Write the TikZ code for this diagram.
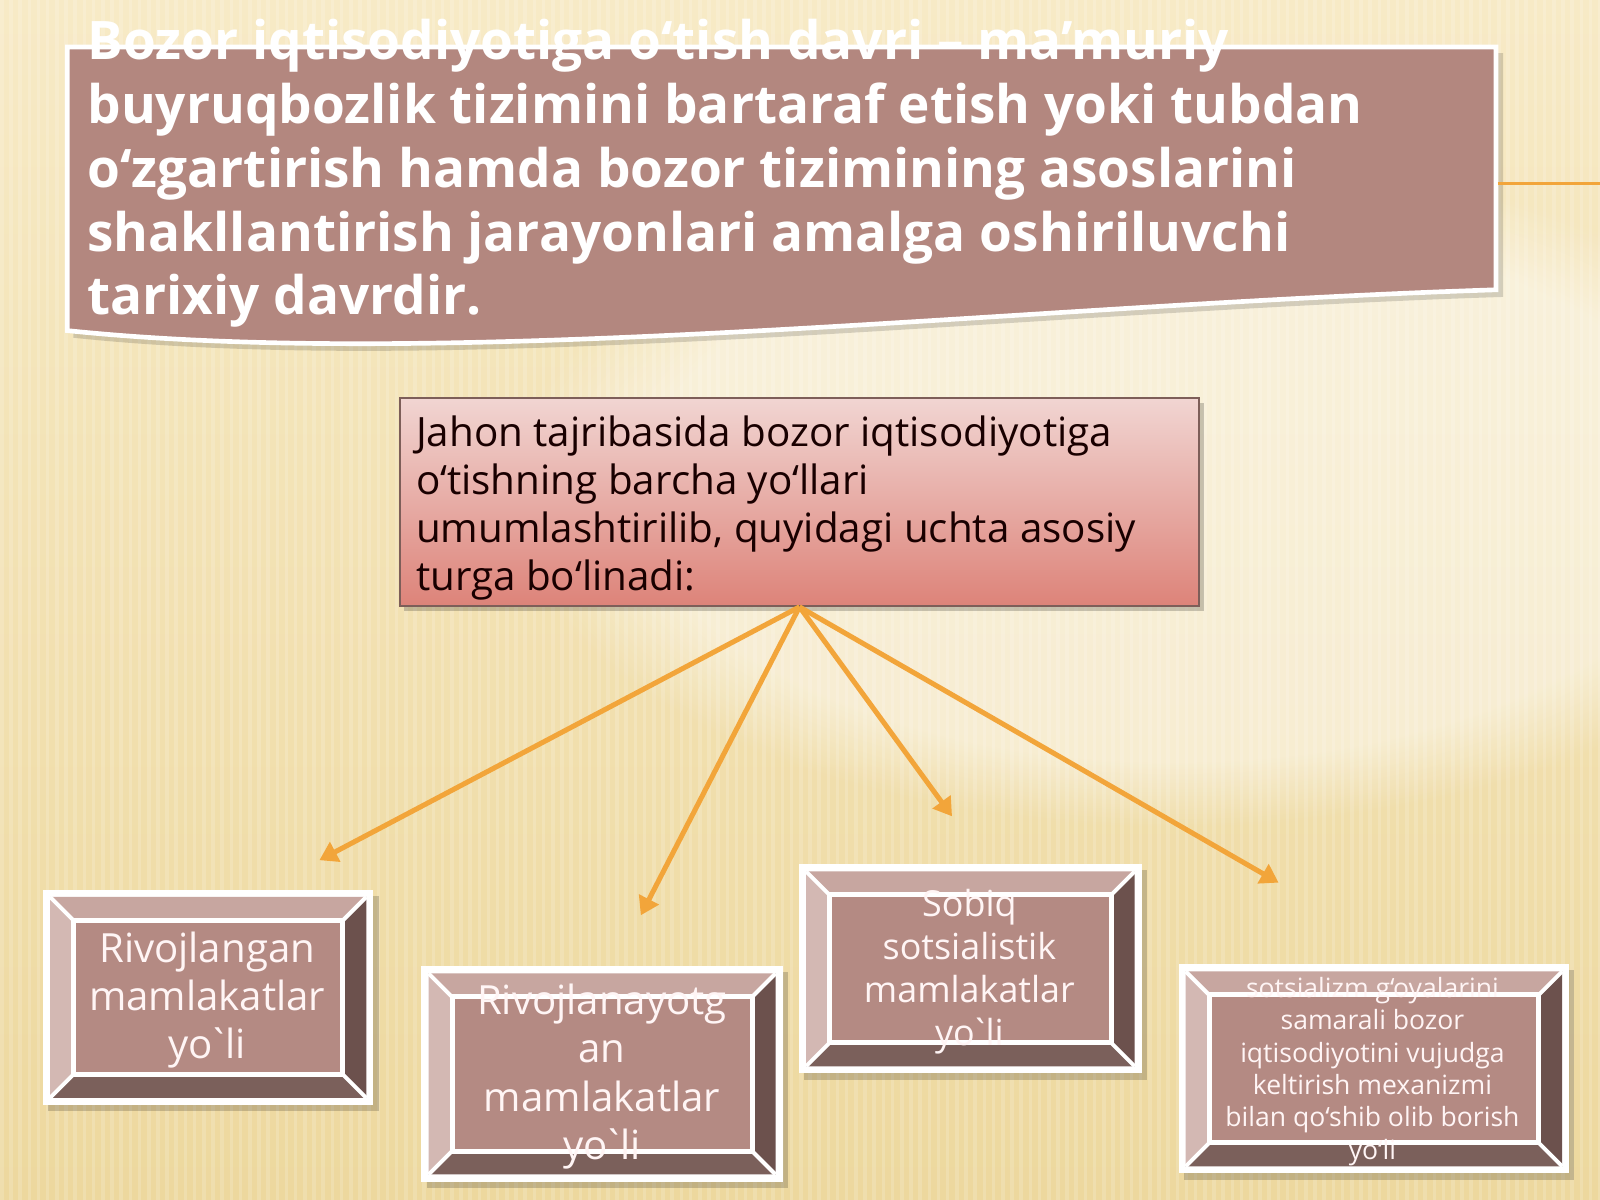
\documentclass[tikz,border=0pt]{standalone}
\usepackage{fontspec}
\setmainfont{Open Sans}
\usetikzlibrary{arrows.meta,fadings}

\definecolor{bgtop}{HTML}{F7EAC6}
\definecolor{bgbot}{HTML}{EDD89E}
\definecolor{rosebox}{HTML}{B3877F}
\definecolor{faceclr}{HTML}{B48A83}
\definecolor{bevtop}{HTML}{C7A6A0}
\definecolor{bevleft}{HTML}{D3B8B3}
\definecolor{bevright}{HTML}{6C514D}
\definecolor{bevbot}{HTML}{7B605B}
\definecolor{pinktop}{HTML}{F1D5D2}
\definecolor{pinkbot}{HTML}{DD8379}
\definecolor{arrowclr}{HTML}{F2A53A}

\tikzset{
  fanarrow/.style={draw=arrowclr, line width=1.4pt, -{Triangle[length=5pt,width=6pt]}},
  boxtext/.style={text=white!96!red, align=center, inner sep=0pt},
}

% tight grave accent as printed in the labels
\newcommand{\grv}{\kern-0.14em\textasciigrave\kern-0.14em}

% bevelled box between (x1,y1) and (x2,y2)
\newcommand{\bevelbox}[4]{%
  \fill[black,opacity=0.18] (#1+5,#2+6) rectangle (#3+5,#4+6);
  \fill[white] (#1,#2) rectangle (#3,#4);
  \fill[bevtop] (#1+7,#2+7) -- (#3-7,#2+7) -- (#3-30,#2+30) -- (#1+30,#2+30) -- cycle;
  \fill[bevbot] (#1+7,#4-7) -- (#3-7,#4-7) -- (#3-30,#4-30) -- (#1+30,#4-30) -- cycle;
  \fill[bevleft] (#1+7,#2+7) -- (#1+30,#2+30) -- (#1+30,#4-30) -- (#1+7,#4-7) -- cycle;
  \fill[bevright] (#3-7,#2+7) -- (#3-30,#2+30) -- (#3-30,#4-30) -- (#3-7,#4-7) -- cycle;
  \draw[white,line width=1.1pt] (#1+7,#2+7) -- (#1+30,#2+30) (#3-7,#2+7) -- (#3-30,#2+30)
    (#1+7,#4-7) -- (#1+30,#4-30) (#3-7,#4-7) -- (#3-30,#4-30);
  \fill[faceclr,draw=white,line width=1.4pt] (#1+30,#2+30) rectangle (#3-30,#4-30);
}

\begin{document}
\begin{tikzpicture}[x=0.01cm,y=-0.01cm]
  \useasboundingbox (0,0) rectangle (1568,1176);
  % background
  \shade[top color=bgtop, bottom color=bgbot] (0,0) rectangle (1568,1176);
  \fill[white,opacity=0.45,path fading=circle with fuzzy edge 20 percent] (1150,480) ellipse (650 and 330);
  \foreach \x in {0,9,...,1568}
    \fill[white,opacity=0.16] (\x,0) rectangle (\x+3.5,1176);

  % title banner
  \fill[black,opacity=0.15] (72,52) -- (1473,52) -- (1473,291)
    .. controls (1000,306) and (450,371) .. (72,331) -- cycle;
  \fill[rosebox,draw=white,line width=1.3pt] (66,46) -- (1466,46) -- (1466,284)
    .. controls (1000,299) and (450,364) .. (66,324) -- cycle;
  \node[anchor=north west, align=left, inner sep=0pt, text=white,
        font=\bfseries\fontsize{14.8pt}{17.8pt}\selectfont] (title) at (85,18)
    {Bozor iqtisodiyotiga o‘tish davri – ma’muriy\\
     buyruqbozlik tizimini bartaraf etish yoki tubdan\\
     o‘zgartirish hamda bozor tizimining asoslarini\\
     shakllantirish jarayonlari amalga oshiriluvchi\\
     tarixiy davrdir.};
  \coordinate (titleedge) at (1468,180);
  \coordinate (rightend) at (1568,180);
  \draw[arrowclr,line width=1pt] (titleedge) -- (rightend);

  % main box
  \fill[black,opacity=0.2] (396,395) rectangle (1180,599);
  \shade[top color=pinktop, bottom color=pinkbot, draw=rosebox!70!black, line width=0.5pt]
    (392,390) rectangle (1175,594);
  \node[draw=none, inner sep=0pt, minimum width=7.83cm, minimum height=2.04cm] (jahon) at (783.5,492) {};
  \node[anchor=north west, align=left, inner sep=0pt, text=black!90!red,
        font=\fontsize{11.25pt}{13.4pt}\selectfont] (jahontext) at (407,407)
    {Jahon tajribasida bozor iqtisodiyotiga\\
     o‘tishning barcha yo‘llari\\
     umumlashtirilib, quyidagi uchta asosiy\\
     turga bo‘linadi:};

  % arrows
  \coordinate (t1) at (313,843);
  \coordinate (t2) at (628,897);
  \coordinate (t3) at (933,800);
  \coordinate (t4) at (1253,865);
  \draw[fanarrow] (jahon.south) -- (t1);
  \draw[fanarrow] (jahon.south) -- (t2);
  \draw[fanarrow] (jahon.south) -- (t3);
  \draw[fanarrow] (jahon.south) -- (t4);

  % four ways
  \bevelbox{42}{872}{366}{1083}
  \node[boxtext, font=\fontsize{11.2pt}{13.4pt}\selectfont] (developed) at (203,980)
    {Rivojlangan\\ mamlakatlar\\ yo\grv li};
  \bevelbox{413}{947}{767}{1158}
  \node[boxtext, font=\fontsize{11.2pt}{13.4pt}\selectfont] (developing) at (590,1055)
    {Rivojlanayotg\\ an\\ mamlakatlar\\ yo\grv li};
  \bevelbox{783}{847}{1119}{1052}
  \node[boxtext, font=\fontsize{10pt}{11.95pt}\selectfont] (exsocialist) at (950,952)
    {Sobiq\\ sotsialistik\\ mamlakatlar\\ yo\grv li};
  \bevelbox{1155}{945}{1538}{1150}
  \node[boxtext, font=\fontsize{7.4pt}{9pt}\selectfont] (mixed) at (1345,1050)
    {sotsializm g‘oyalarini\\ samarali bozor\\ iqtisodiyotini vujudga\\ keltirish mexanizmi\\ bilan qo‘shib olib borish\\ yo‘li};
\end{tikzpicture}
\end{document}
